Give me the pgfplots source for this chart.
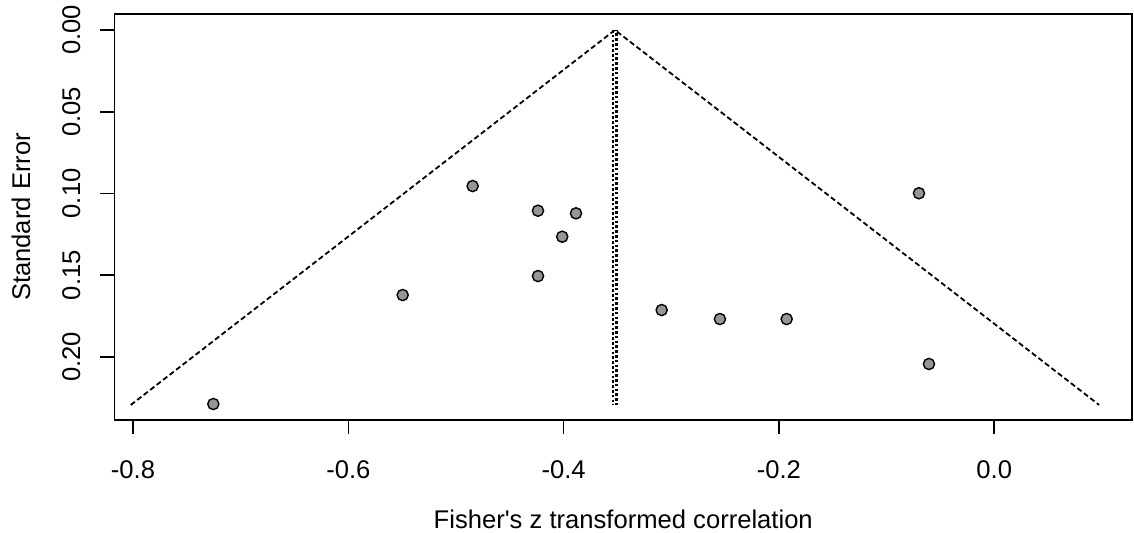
\documentclass[border=0pt]{standalone}
\usepackage{pgfplots}
\pgfplotsset{compat=1.18}
\usepackage{fontspec}
\setmainfont{Liberation Sans}
\definecolor{ptgray}{RGB}{150,150,150}
\begin{document}
\begin{tikzpicture}
\useasboundingbox (-57.25pt,-56pt) rectangle (509.75pt,210pt);
\begin{axis}[
  at={(0,0)}, anchor=south west,
  scale only axis,
  width=508.75pt, height=203pt,
  xmin=-0.8172, xmax=0.128,
  ymin=-0.0098, ymax=0.2387,
  y dir=reverse,
  axis line style={line width=0.9pt},
  every tick/.style={black, line width=0.8pt},
  tick align=outside,
  major tick length=7pt,
  xtick pos=bottom, ytick pos=left,
  xtick={-0.8,-0.6,-0.4,-0.2,0.0},
  xticklabels={-0.8,-0.6,-0.4,-0.2,0.0},
  ytick={0,0.05,0.10,0.15,0.20},
  yticklabels={0.00,0.05,0.10,0.15,0.20},
  tick label style={font=\fontsize{12.8}{14}\selectfont},
  xticklabel style={yshift=-10pt},
  yticklabel style={rotate=90, anchor=south, yshift=6.5pt},
  xlabel={Fisher\textquotesingle s z transformed correlation},
  ylabel={Standard Error},
  label style={font=\fontsize{12.8}{14}\selectfont},
  xlabel style={at={(axis description cs:0.5,0)}, anchor=center, yshift=-49.5pt},
  ylabel style={at={(axis description cs:0,0.5)}, anchor=center, yshift=46.75pt},
  clip=false,
]
% funnel
\addplot[black, line width=0.9pt, dash pattern=on 2.6pt off 1.5pt] coordinates {(-0.8021,0.2295) (-0.3523,0) (0.0975,0.2295)};
% centre line (double dotted)
\addplot[black, line width=1.1pt, dash pattern=on 1.3pt off 1.1pt] coordinates {(-0.3538,0) (-0.3538,0.2295)};
\addplot[black, line width=1.1pt, dash pattern=on 1.3pt off 1.1pt, dash phase=0.7pt] coordinates {(-0.3508,0) (-0.3508,0.2295)};
% studies
\addplot[only marks, mark=*, mark size=2.8pt, mark options={fill=ptgray, draw=black, line width=0.7pt}] coordinates {
(-0.7254,0.2289)
(-0.5495,0.1622)
(-0.4845,0.0955)
(-0.4238,0.1106)
(-0.3885,0.1122)
(-0.4013,0.1265)
(-0.4238,0.1506)
(-0.3089,0.1714)
(-0.2548,0.1769)
(-0.1928,0.1769)
(-0.0699,0.0999)
(-0.0606,0.2044)
};
\end{axis}
\end{tikzpicture}
\end{document}
